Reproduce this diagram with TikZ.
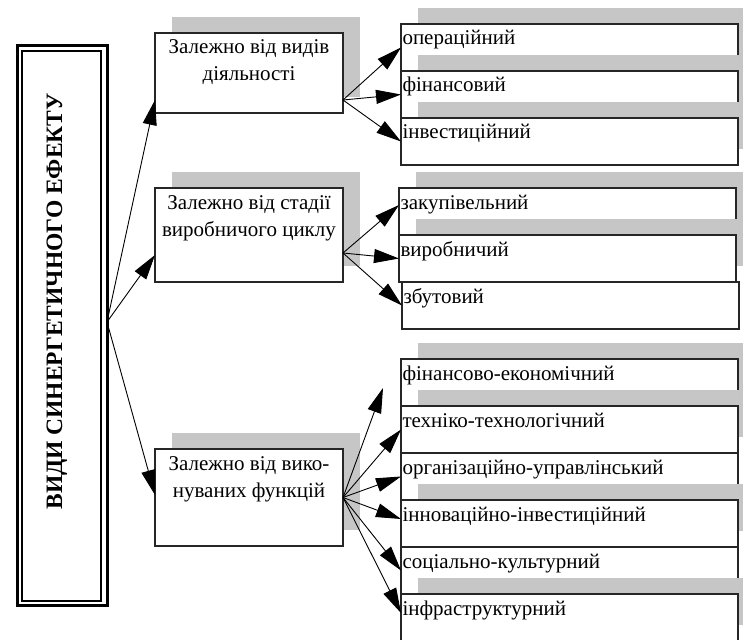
\documentclass[tikz,border=0pt]{standalone}
\usepackage{fontspec}
\setmainfont{Liberation Serif}
\usepackage{tikz}
\usetikzlibrary{arrows.meta,positioning,shadows}

\newcommand{\ltext}[2]{\parbox[c][#1][t]{188pt}{\centering\rule{0pt}{21pt}#2}}

\begin{document}
\begin{tikzpicture}
			[x=1pt,y=-1pt,
			every node/.style={font=\fontsize{21pt}{27pt}\selectfont},
			shadowed/.style={drop shadow={shadow xshift=17pt,shadow yshift=16pt,fill=gray!45,opacity=1}},
			lbox/.style={draw=black!85,line width=1.3pt,fill=white,inner sep=0pt,outer sep=0pt,anchor=north west,shadowed},
			rbox/.style={draw=black!85,line width=1.3pt,fill=white,inner xsep=1.5pt,inner ysep=0pt,outer sep=0pt,
				text width=334pt,text height=21pt,text depth=26pt},
			conn/.style={->,>={Triangle[length=25pt,width=14pt]},line width=0.9pt}]
			\path[use as bounding box,clip] (0,0) rectangle (743,639);
			
			% main frame
			\node[draw,line width=3pt,outer sep=0pt,minimum width=89.5pt,minimum height=560pt,anchor=north west] (vid) at (17.5,45.5) {};
			\draw[line width=2pt] ([shift={(4.5,5.5)}]vid.north west) rectangle ([shift={(-6,-4.5)}]vid.south east);
			\node[rotate=90,anchor=base,font=\fontsize{23.5pt}{26pt}\selectfont\bfseries] (vidtitle) at (62,301.5) {ВИДИ СИНЕРГЕТИЧНОГО ЕФЕКТУ};
			
			% groups
			\node[lbox] (b1) at (155,33)  {\ltext{80pt}{Залежно від видів\\діяльності}};
			\node[lbox] (b2) at (155,188) {\ltext{94pt}{Залежно від стадії\\виробничого циклу}};
			\node[lbox] (b3) at (155,449) {\ltext{97pt}{Залежно від вико-\\нуваних функцій}};
			
			% kinds
			\node[rbox,shadowed,anchor=north west] (r11) at (401,24) {операційний};
			\node[rbox,shadowed,below=0pt of r11] (r12) {фінансовий};
			\node[rbox,shadowed,below=0pt of r12] (r13) {інвестиційний};
			
			\node[rbox,shadowed,anchor=north west] (r21) at (399,188) {закупівельний};
			\node[rbox,shadowed,below=0pt of r21] (r22) {виробничий};
			\node[rbox,below=0pt of r22,xshift=3pt] (r23) {збутовий};
			
			\node[rbox,shadowed,anchor=north west] (r31) at (401,359) {фінансово-економічний};
			\node[rbox,shadowed,below=0pt of r31] (r32) {техніко-технологічний};
			\node[rbox,below=0pt of r32] (r33) {організаційно-управлінський};
			\node[rbox,shadowed,below=0pt of r33] (r34) {інноваційно-інвестиційний};
			\node[rbox,below=0pt of r34] (r35) {соціально-культурний};
			\node[rbox,shadowed,below=0pt of r35] (r36) {інфраструктурний};
			
			\draw[conn] ([yshift=3.5pt]vid.east) -- ([yshift=-27pt]b1.west);
			\draw[conn] ([yshift=3.5pt]vid.east) -- ([yshift=-20pt]b2.west);
			\draw[conn] ([yshift=3.5pt]vid.east) -- ([yshift=2.5pt]b3.west);
			
			\foreach \k in {r11,r12,r13}
				\draw[conn] ([yshift=-27pt]b1.east) -- (\k.west);
			\draw[conn] ([yshift=-18pt]b2.east) -- ([yshift=6.5pt]r21.west);
			\foreach \k in {r22,r23}
				\draw[conn] ([yshift=-18pt]b2.east) -- (\k.west);
			\draw[conn] (b3.east) -- ([xshift=-18pt,yshift=-5.5pt]r31.west);
			\draw[conn] (b3.east) -- (r32.west);
			\draw[conn] (b3.east) -- (r33.west);
			\draw[conn] (b3.east) -- ([yshift=4.5pt]r34.west);
			\draw[conn] (b3.east) -- (r35.west);
			\draw[conn] (b3.east) -- ([yshift=4.5pt]r36.west);
			\end{tikzpicture}
\end{document}
